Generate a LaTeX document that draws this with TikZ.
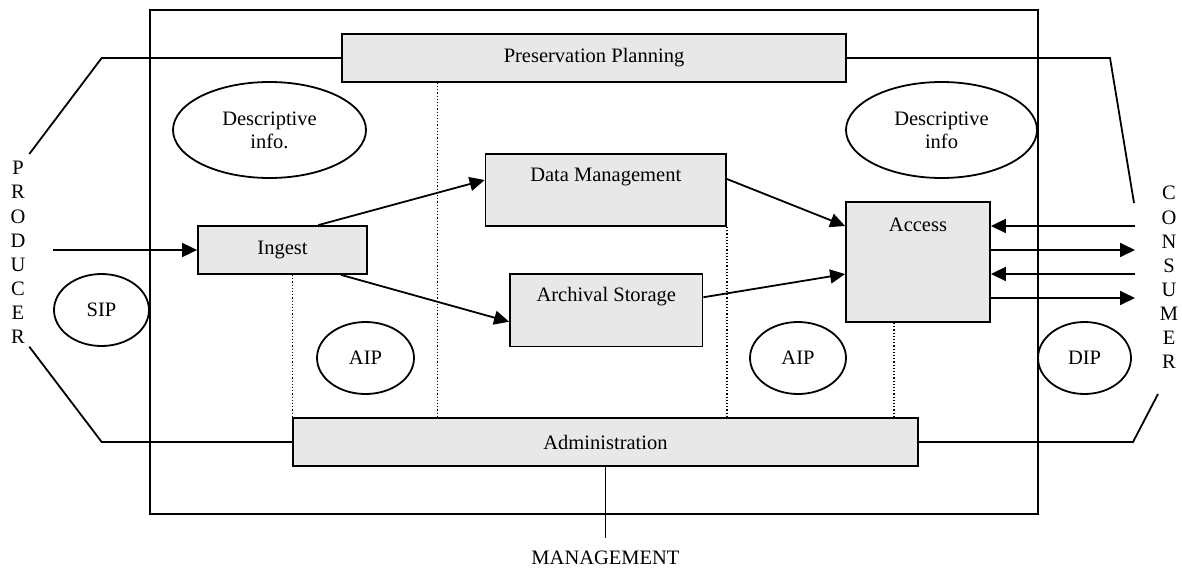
\documentclass[tikz,border=0pt]{standalone}
\usepackage{fontspec}
\setmainfont{Liberation Serif}
\usetikzlibrary{arrows.meta,shapes.geometric}
\definecolor{boxgray}{HTML}{E8E8E8}
\begin{document}
\begin{tikzpicture}[x=1pt,y=-1pt,
  every node/.style={font=\fontsize{20.5}{23}\selectfont},
  line/.style={line width=1.8pt},
  box/.style={draw,line width=1.8pt,fill=boxgray,inner sep=0pt,rectangle},
  oval/.style={draw,line width=1.8pt,ellipse,inner sep=0pt,align=center},
  arr/.style={line width=1.8pt,-{Triangle[length=15pt,width=14pt]}},
  dotline/.style={line width=1.2pt,dotted},
  column/.style={align=center,font=\fontsize{20.5}{24.1}\selectfont,inner sep=0pt}
]
\useasboundingbox (0,0) rectangle (1182,567);

% system boundary
\draw[line] (150,10) rectangle (1038,514);

% functional entities
\node[box,minimum width=504pt,minimum height=48pt] (pp) at (594,58) {Preservation Planning};
\node[box,minimum width=169pt,minimum height=48pt] (ingest) at (282.5,250) {Ingest};
\node[box,minimum width=240.5pt,minimum height=72pt,
      label={[yshift=13pt]center:Data Management}] (dm) at (605.75,190) {};
\node[box,minimum width=192.5pt,minimum height=72.5pt,
      label={[yshift=13.6pt]center:Archival Storage}] (as) at (606.25,310.25) {};
\node[box,minimum width=144pt,minimum height=120pt,
      label={[yshift=37pt]center:Access}] (access) at (918,262) {};
\node[box,minimum width=625pt,minimum height=48pt] (admin) at (605.5,442) {Administration};

% information packages
\node[oval,minimum width=193pt,minimum height=96pt] (desc1) at (269.5,130) {Descriptive\\info.};
\node[oval,minimum width=191pt,minimum height=96pt] (desc2) at (941.5,130) {Descriptive\\info};
\node[oval,minimum width=95pt,minimum height=72pt] (sip) at (101.5,310) {SIP};
\node[oval,minimum width=97pt,minimum height=72pt] (aip1) at (365.5,358) {AIP};
\node[oval,minimum width=96pt,minimum height=72pt] (aip2) at (798,358) {AIP};
\node[oval,minimum width=93pt,minimum height=72pt] (dip) at (1084.5,358) {DIP};

% external actors
\node[column] (producer) at (18,252.5) {P\\R\\O\\D\\U\\C\\E\\R};
\node[column] (consumer) at (1169,277.5) {C\\O\\N\\S\\U\\M\\E\\R};
\node (mgmt) at (605.5,558) {MANAGEMENT};

% producer bracket
\coordinate (pt1) at (101.7,58);
\coordinate (pt2) at (29.3,154);
\coordinate (pb1) at (101.7,442);
\coordinate (pb2) at (29.3,346.7);
\draw[line] (pp.west) -- (pt1) -- (pt2);
\draw[line] (admin.west) -- (pb1) -- (pb2);

% consumer bracket
\coordinate (ct1) at (1110,58);
\coordinate (ct2) at (1134,203);
\coordinate (cb1) at (1133,442);
\coordinate (cb2) at (1158,394);
\draw[line] (pp.east) -- (ct1) -- (ct2);
\draw[line] (admin.east) -- (cb1) -- (cb2);

% management link
\coordinate (mg) at (605.5,538);
\draw[line] (admin.south) -- (mg);

% submission
\coordinate (pin) at (53,250);
\draw[arr] (pin) -- (ingest.west);

% internal flows
\draw[arr] ([xshift=121.2pt]ingest.north west) -- ([yshift=10pt]dm.west);
\draw[arr] ([xshift=144pt]ingest.south west) -- ([yshift=-11.5pt]as.west);
\draw[arr] ([yshift=11pt]dm.east) -- ([yshift=36pt]access.west);
\draw[arr] ([yshift=13pt]as.east) -- ([yshift=-12pt]access.west);

% consumer exchanges
\coordinate (c1) at (1135,226);
\coordinate (c2) at (1135,250);
\coordinate (c3) at (1135,274);
\coordinate (c4) at (1135,298);
\draw[arr] (c1) -- (c1 -| access.east);
\draw[arr] (c2 -| access.east) -- (c2);
\draw[arr] (c3) -- (c3 -| access.east);
\draw[arr] (c4 -| access.east) -- (c4);

% dotted separators
\draw[dotline] (ingest.south -| admin.west) -- (admin.north west);
\draw[dotline] ([xshift=96.3pt]pp.south west) coordinate (d1) -- (d1 |- admin.north);
\draw[dotline] (dm.south east) -- (dm.south east |- admin.north);
\draw[dotline] ([xshift=-24pt]access.south) coordinate (d4) -- (d4 |- admin.north);
\end{tikzpicture}
\end{document}
